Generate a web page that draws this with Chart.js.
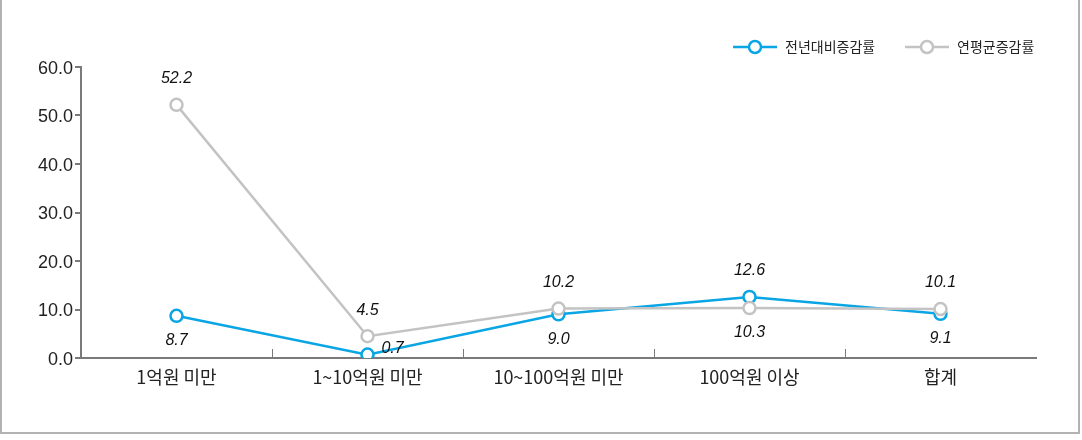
<!DOCTYPE html>
<html><head><meta charset="utf-8">
<script src="https://cdn.jsdelivr.net/npm/chart.js@4/dist/chart.umd.min.js"></script>
<style>html,body{margin:0;padding:0;background:#fff}canvas{display:block}</style>
</head><body>
<canvas id="c" width="1082" height="440"></canvas>
<script>
const categories = ['1억원 미만', '1~10억원 미만', '10~100억원 미만', '100억원 이상', '합계'];
const seriesNames = ['전년대비증감률', '연평균증감률'];
const yoyValues = [8.7, 0.7, 9.0, 12.6, 9.1];
const cagrValues = [52.2, 4.5, 10.2, 10.3, 10.1];
const yTicks = [0, 10, 20, 30, 40, 50, 60];
const yoyLabelPos = ['below', 'right', 'below', 'above', 'below'];
const cagrLabelPos = ['above', 'above', 'above', 'below', 'above'];

const BLUE = '#0aa5e4';
const GRAY = '#c3c3c3';
const AXIS = '#7a7a7a';
const NUMFONT = '"Liberation Sans", "Noto Sans CJK KR", sans-serif';
const KFONT = '"Noto Sans CJK KR", sans-serif';

const extras = {
  id: 'extras',
  beforeDraw(chart) {
    const ctx = chart.ctx;
    ctx.save();
    ctx.strokeStyle = '#b2b2b2';
    ctx.lineWidth = 2;
    ctx.beginPath();
    ctx.moveTo(1, 0); ctx.lineTo(1, 433); ctx.lineTo(1079, 433); ctx.lineTo(1079, 0);
    ctx.stroke();
    ctx.restore();
  },
  afterDraw(chart) {
    const ctx = chart.ctx;
    const xs = chart.scales.x;
    const area = chart.chartArea;
    ctx.save();
    ctx.strokeStyle = AXIS;
    ctx.lineWidth = 1;
    for (let i = 1; i < categories.length; i++) {
      const x = Math.round((xs.getPixelForValue(i - 1) + xs.getPixelForValue(i)) / 2) + 0.5;
      ctx.beginPath();
      ctx.moveTo(x, area.bottom);
      ctx.lineTo(x, area.bottom - 9);
      ctx.stroke();
    }
    // legend
    const items = [{c: BLUE, x: 733}, {c: GRAY, x: 905}];
    ctx.font = '14px ' + KFONT;
    ctx.textBaseline = 'middle';
    ctx.textAlign = 'left';
    items.forEach((it, i) => {
      const y = 47;
      ctx.strokeStyle = it.c;
      ctx.lineWidth = 2.5;
      ctx.beginPath(); ctx.moveTo(it.x, y); ctx.lineTo(it.x + 44, y); ctx.stroke();
      ctx.beginPath(); ctx.arc(it.x + 22, y, 6, 0, Math.PI * 2);
      ctx.fillStyle = '#fff'; ctx.fill(); ctx.stroke();
      ctx.fillStyle = '#222';
      ctx.fillText(seriesNames[i], it.x + 52, y);
    });
    ctx.restore();
  },
  afterDatasetsDraw(chart) {
    const ctx = chart.ctx;
    ctx.save();
    ctx.font = 'italic 16px ' + NUMFONT;
    ctx.fillStyle = '#111';
    ctx.textBaseline = 'middle';
    const sets = [[yoyValues, yoyLabelPos], [cagrValues, cagrLabelPos]];
    sets.forEach(([vals, pos], di) => {
      const meta = chart.getDatasetMeta(di);
      meta.data.forEach((pt, i) => {
        let x = pt.x, y = pt.y;
        ctx.textAlign = 'center';
        if (pos[i] === 'above') y -= 26;
        else if (pos[i] === 'below') y += 25;
        else { x += 25; y -= 6; }
        ctx.fillText(vals[i].toFixed(1), x, y);
      });
    });
    ctx.restore();
  }
};

new Chart(document.getElementById('c'), {
  type: 'line',
  data: {
    labels: categories,
    datasets: [
      { label: seriesNames[0], data: yoyValues, borderColor: BLUE, backgroundColor: '#fff',
        borderWidth: 2.5, pointRadius: 6, pointBorderWidth: 2.5, pointBackgroundColor: '#fff',
        pointBorderColor: BLUE, tension: 0, order: 1 },
      { label: seriesNames[1], data: cagrValues, borderColor: GRAY, backgroundColor: '#fff',
        borderWidth: 2.5, pointRadius: 6, pointBorderWidth: 2.5, pointBackgroundColor: '#fff',
        pointBorderColor: GRAY, tension: 0, order: 0 }
    ]
  },
  options: {
    responsive: false,
    animation: false,
    layout: { padding: { left: 0, top: 67, right: 46, bottom: 42 } },
    plugins: { legend: { display: false }, tooltip: { enabled: false } },
    scales: {
      x: {
        offset: true,
        grid: { display: false, drawOnChartArea: false, drawTicks: false },
        border: { display: true, color: AXIS, width: 2 },
        ticks: { color: '#222', font: { family: KFONT, size: 18 }, padding: 8 },
        afterFit(s) { s.height = 40; }
      },
      y: {
        min: 0, max: 60,
        afterBuildTicks(s) { s.ticks = yTicks.map(v => ({ value: v })); },
        grid: { display: true, drawOnChartArea: false, drawTicks: true, tickLength: 6, color: AXIS, lineWidth: 2 },
        border: { display: true, color: AXIS, width: 2 },
        ticks: { color: '#222', font: { family: NUMFONT, size: 18 }, padding: 2, labelOffset: 2,
          callback: v => Number(v).toFixed(1) },
        afterFit(s) { s.width = 81; }
      }
    }
  },
  plugins: [extras]
});
</script>
</body></html>
